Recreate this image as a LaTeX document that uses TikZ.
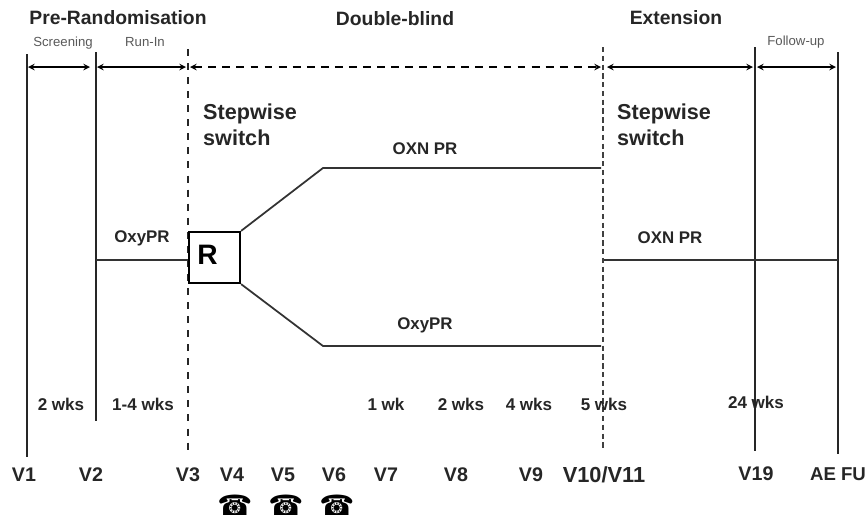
\documentclass[tikz,border=0pt]{standalone}
\usepackage{fontspec}
\setmainfont{Liberation Sans}
\newfontfamily\phonefont{DejaVu Sans}
\usepackage{tikz}
\usetikzlibrary{arrows,positioning,calc}

\tikzset{
    phase/.style={font=\bfseries\fontsize{11}{13}\selectfont, text=black!85},
    period/.style={font=\fontsize{7.5}{9}\selectfont, text=black!65},
    armlabel/.style={font=\bfseries\fontsize{9.6}{11}\selectfont, text=black!85},
    steplabel/.style={font=\bfseries\fontsize{12.3}{14.5}\selectfont, text=black!85, align=left, anchor=west},
    weeks/.style={font=\bfseries\fontsize{9.7}{11}\selectfont, text=black!85},
    visit/.style={font=\bfseries\fontsize{11.2}{13}\selectfont, text=black!85},
    phone/.style={font=\phonefont\fontsize{16}{16}\selectfont, inner sep=0pt},
    span/.style={<->, >=stealth, line width=0.7pt},
    limit/.style={line width=1.2pt, black!85},
    arm/.style={line width=1pt, black!80},
    thinarm/.style={line width=0.6pt, black!80}
}

\begin{document}
\begin{tikzpicture}[x=0.02cm,y=-0.02cm]
    \useasboundingbox (0,0) rectangle (867,521);

    % Phase headings
    \node[phase] (prerand) at (118,18) {Pre-Randomisation};
    \node[phase] (dblind) at (395,19) {Double-blind};
    \node[phase] (extension) at (676,18) {Extension};

    % Period headings
    \node[period] (screening) at (63,43) {Screening};
    \node[period] (runin) at (145,42) {Run-In};
    \node[period] (followup) at (796,42) {Follow-up};

    % Visit labels
    \node[visit] (v1) at (24,475) {V1};
    \node[visit] (v2) at (91,475) {V2};
    \node[visit] (v3) at (188,475) {V3};
    \node[visit] (v4) at (232,475) {V4};
    \node[visit] (v5) at (283,475) {V5};
    \node[visit] (v6) at (334,475) {V6};
    \node[visit] (v7) at (386,475) {V7};
    \node[visit] (v8) at (456,475) {V8};
    \node[visit] (v9) at (531,475) {V9};
    \node[visit, font=\bfseries\fontsize{12.4}{13}\selectfont] (v10) at (604,475) {V10/V11};
    \node[visit] (v19) at (756,474) {V19};
    \node[visit, font=\bfseries\fontsize{10.6}{13}\selectfont] (aefu) at (838,474) {AE FU};

    % Phones
    \foreach \n/\x in {pfour/235,pfive/286,psix/337} {
        \node[phone] (\n) at (\x,505) {☎};
    }

    % Visit lines
    \coordinate (t1) at (27,54);   \coordinate (b1) at (27,457);
    \coordinate (t2) at (96,52);   \coordinate (b2) at (96,421);
    \coordinate (t3) at (188,49);  \coordinate (b3) at (188,452);
    \coordinate (t10) at (603,47); \coordinate (b10) at (603,450);
    \coordinate (t19) at (755,47); \coordinate (b19) at (755,451);
    \coordinate (tfu) at (838,52); \coordinate (bfu) at (838,454);
    \draw[limit] (t1) -- (b1);
    \draw[limit] (t2) -- (b2);
    \draw[limit] (t19) -- (b19);
    \draw[limit] (tfu) -- (bfu);
    \draw[line width=1pt, black!85, dash pattern=on 4pt off 4pt] (t3) -- (b3);
    \draw[line width=0.6pt, black!75, dash pattern=on 3pt off 2pt] (t10) -- (b10);

    % Period arrows
    \coordinate (a1) at (28,67);   \coordinate (a2) at (90,67);
    \coordinate (a3) at (97,67);   \coordinate (a4) at (186,67);
    \coordinate (a5) at (190,67);  \coordinate (a6) at (601,67);
    \coordinate (a7) at (607,67);  \coordinate (a8) at (753,67);
    \coordinate (a9) at (757,67);  \coordinate (a10) at (836,67);
    \draw[span] (a1) -- (a2);
    \draw[span] (a3) -- (a4);
    \draw[span, dash pattern=on 4.5pt off 3.5pt] (a5) -- (a6);
    \draw[span] (a7) -- (a8);
    \draw[span] (a9) -- (a10);

    % Stepwise switch
    \node[steplabel] (swleft) at (197,125) {Stepwise\\switch};
    \node[steplabel] (swright) at (611,125) {Stepwise\\switch};

    % Randomisation box
    \node[draw, line width=1.3pt, minimum size=1.02cm, inner sep=0pt] (rand) at (214.5,257.5) {};
    \node[font=\bfseries\fontsize{16}{18}\selectfont] (rlabel) at (207.5,255) {R};

    % Treatment arms
    \coordinate (upbend) at (323,168); \coordinate (upend) at (601,168);
    \coordinate (lowbend) at (323,346); \coordinate (lowend) at (601,346);
    \draw[arm] (rand.north east) -- (upbend) -- (upend);
    \draw[arm] (rand.south east) -- (lowbend) -- (lowend);
    \coordinate (runleft) at (96,260);
    \draw[thinarm] (runleft) -- (rand.west |- runleft);
    \coordinate (extleft) at (604,260); \coordinate (extright) at (838,260);
    \draw[thinarm] (extleft) -- (extright);

    % Arm labels
    \node[armlabel] (oxyrun) at (142,238) {OxyPR};
    \node[armlabel] (oxnup) at (425,149) {OXN PR};
    \node[armlabel] (oxylow) at (425,325) {OxyPR};
    \node[armlabel] (oxnext) at (670,238) {OXN PR};

    % Durations
    \node[weeks] (w1) at (61,404) {2 wks};
    \node[weeks] (w2) at (143,404) {1-4 wks};
    \node[weeks] (w3) at (386,404) {1 wk};
    \node[weeks] (w4) at (461,404) {2 wks};
    \node[weeks] (w5) at (529,404) {4 wks};
    \node[weeks] (w6) at (604,404) {5 wks};
    \node[weeks] (w7) at (756,402) {24 wks};
\end{tikzpicture}
\end{document}
